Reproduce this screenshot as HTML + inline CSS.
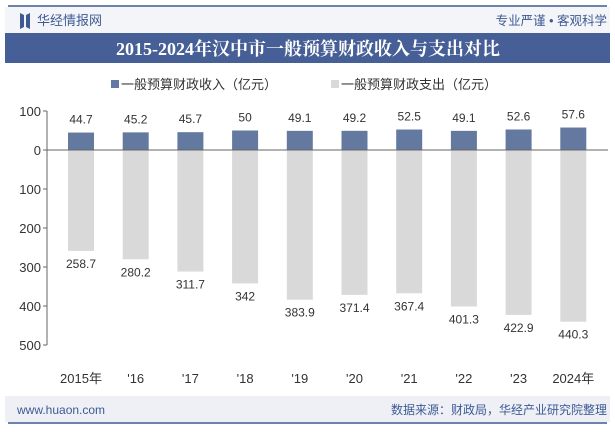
<!DOCTYPE html>
<html><head><meta charset="utf-8"><style>
body{margin:0;width:615px;height:427px;background:#fff;font-family:"Liberation Sans","Noto Sans CJK SC",sans-serif;overflow:hidden;position:relative}
</style></head><body>
<svg width="615" height="427" viewBox="0 0 615 427" xmlns="http://www.w3.org/2000/svg" font-family="Liberation Sans, Noto Sans CJK SC, sans-serif">
<rect x="0" y="0" width="615" height="427" fill="#fff"/>
<line x1="8" y1="6" x2="607" y2="6" stroke="#3d5a94" stroke-width="1.5"/>
<rect x="5" y="7" width="605" height="26" fill="#f4f5f9"/>
<path d="M20 13 L24 15 L24 27 L20 29 Z M26 15 L30 13 L30 29 L26 27 Z" fill="#3d5a94"/>
<text x="37" y="25" font-size="13" fill="#3d5a94">华经情报网</text>
<text x="607" y="25" font-size="12.5" fill="#3d5a94" text-anchor="end">专业严谨 • 客观科学</text>
<rect x="5" y="33" width="605" height="30" fill="#465f96"/>
<text x="308" y="55" font-size="18" font-weight="bold" fill="#fff" text-anchor="middle" font-family="Liberation Serif, Noto Serif CJK SC, serif">2015-2024年汉中市一般预算财政收入与支出对比</text>
<g>
<rect x="111" y="80" width="8" height="8" fill="#63799f"/>
<text x="121" y="89" font-size="13" fill="#333">一般预算财政收入（亿元）</text>
<rect x="331" y="80" width="8" height="8" fill="#d9d9d9"/>
<text x="341" y="89" font-size="13" fill="#333">一般预算财政支出（亿元）</text>
</g>
<g id="chart"></g>
<rect x="5" y="396" width="605" height="26" fill="#eef0f6"/>
<line x1="8" y1="423" x2="607" y2="423" stroke="#3d5a94" stroke-width="1.5"/>
<text x="17" y="414" font-size="12" fill="#3d5a94">www.huaon.com</text>
<text x="607" y="414" font-size="12" fill="#3d5a94" text-anchor="end">数据来源：财政局，华经产业研究院整理</text>
</svg>
<script>
const categories=["2015年","'16","'17","'18","'19","'20","'21","'22","'23","2024年"];
const income=[44.7,45.2,45.7,50,49.1,49.2,52.5,49.1,52.6,57.6];
const expense=[258.7,280.2,311.7,342,383.9,371.4,367.4,401.3,422.9,440.3];
const ticks=[100,0,100,200,300,400,500];
const tickVals=[100,0,-100,-200,-300,-400,-500];
const NS="http://www.w3.org/2000/svg";
const g=document.getElementById('chart');
const y0=150,pxPer=0.39,x0=81,step=54.7,bw=26,axX=47;
const yS=v=>y0-v*pxPer;
const xS=i=>x0+i*step;
function mk(t,a,txt){const e=document.createElementNS(NS,t);for(const k in a)e.setAttribute(k,a[k]);if(txt!==undefined)e.textContent=txt;g.appendChild(e);return e;}
let ax=mk('line',{x1:axX,y1:yS(100),x2:axX,y2:yS(-500),stroke:'#666','stroke-width':1});


tickVals.forEach((v,i)=>{
 let tk=mk('line',{x1:axX-4,y1:yS(v),x2:axX,y2:yS(v),stroke:'#666'});
 
 
 let t=mk('text',{x:axX-6,y:yS(v)+5,'font-size':13,fill:'#333','text-anchor':'end'},ticks[i]);
 
 
});
categories.forEach((c,i)=>{
 const cx=xS(i);
 let b1=mk('rect',{x:cx-bw/2,y:yS(income[i]),width:bw,height:yS(0)-yS(income[i]),fill:'#63799f'});
 
 
 let b2=mk('rect',{x:cx-bw/2,y:y0,width:bw,height:expense[i]*pxPer,fill:'#d9d9d9'});
 
 
 let l1=mk('text',{x:cx,y:yS(income[i])-9,'font-size':12,fill:'#333','text-anchor':'middle'},String(income[i]));
 
 
 let l2=mk('text',{x:cx,y:yS(-expense[i])+17,'font-size':12,fill:'#333','text-anchor':'middle'},String(expense[i]));
 
 
 let xl=mk('text',{x:cx,y:383,'font-size':13,fill:'#333','text-anchor':'middle'},c);
 
 
});
let zl=mk('line',{x1:axX,y1:y0,x2:608,y2:y0,stroke:'#666','stroke-width':1});


</script>
</body></html>
